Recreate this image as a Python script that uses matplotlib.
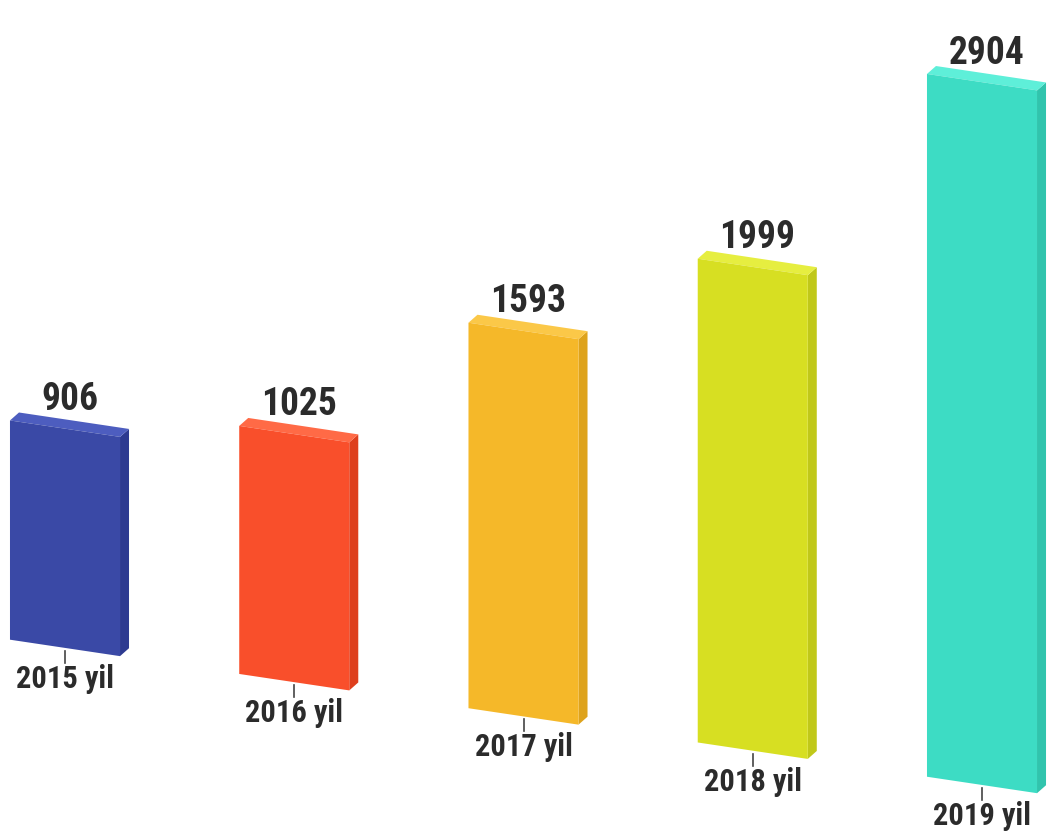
"""
Slanted pseudo-3D bar chart: yearly totals 2015-2019.
"""

import matplotlib
matplotlib.use("Agg")
import matplotlib.pyplot as plt
from matplotlib.patches import Polygon
from matplotlib.transforms import Affine2D

years = ["2015 yil", "2016 yil", "2017 yil", "2018 yil", "2019 yil"]
values = [906, 1025, 1593, 1999, 2904]
front_colors = ["#3a49a6", "#f94f2b", "#f5b829", "#d7df22", "#3ddcc4"]
side_colors = ["#2d3a90", "#de3f1d", "#dea31c", "#c0c819", "#31c4ad"]
top_colors = ["#4d5dbf", "#ff6a46", "#fbc848", "#e6ee40", "#5eefd9"]

FONT = ["Roboto Condensed", "Barlow Condensed", "DejaVu Sans"]
TEXT_COLOR = "#2b2b2b"

W, H, DPI = 1056, 835, 100
fig = plt.figure(figsize=(W / DPI, H / DPI), dpi=DPI)
ax = fig.add_axes([0, 0, 1, 1])
ax.set_axis_off()

# 229 px per category, 0.242 px per unit
px_x = 229.25
px_y = 0.242
xmin = -65 / px_x
ymin = -196.8 / px_y
ax.set_xlim(xmin, xmin + W / px_x)
ax.set_ylim(ymin, ymin + H / px_y)

# whole chart leans: baseline drops to the right
skew = ax.transData + Affine2D().skew_deg(0, -8.5)

bar_w = 0.48
dx = 9 / px_x          # depth of the side face
dy = 9.3 / px_y        # depth of the top face

xs = list(range(len(values)))
bars = ax.bar(xs, values, width=bar_w, color=front_colors,
              linewidth=0, transform=skew, zorder=3)

for x, v, sc, tc in zip(xs, values, side_colors, top_colors):
    left, right = x - bar_w / 2, x + bar_w / 2
    side = Polygon([(right, 0), (right, v), (right + dx, v + dy), (right + dx, dy)],
                   closed=True, facecolor=sc, edgecolor="none",
                   transform=skew, zorder=2)
    top = Polygon([(left, v), (right, v), (right + dx, v + dy), (left + dx, v + dy)],
                  closed=True, facecolor=tc, edgecolor="none",
                  transform=skew, zorder=2)
    ax.add_patch(side)
    ax.add_patch(top)

    ax.annotate(f"{v}", xy=(x + dx / 2, v + dy), xycoords=skew,
                xytext=(0, 10), textcoords="offset pixels",
                ha="center", va="baseline", fontsize=27,
                fontweight="bold", family=FONT, color=TEXT_COLOR)

# year ticks and labels below each bar
for x, label in zip(xs, years):
    ax.plot([x, x], [-3 / px_y, -15 / px_y], color="#444444", lw=1.2,
            transform=skew, zorder=3)
    ax.annotate(label, xy=(x, 0), xycoords=skew,
                xytext=(0, -16), textcoords="offset pixels",
                ha="center", va="top", fontsize=22,
                fontweight="bold", family=FONT, color=TEXT_COLOR)

fig.savefig("out.png", dpi=DPI)
